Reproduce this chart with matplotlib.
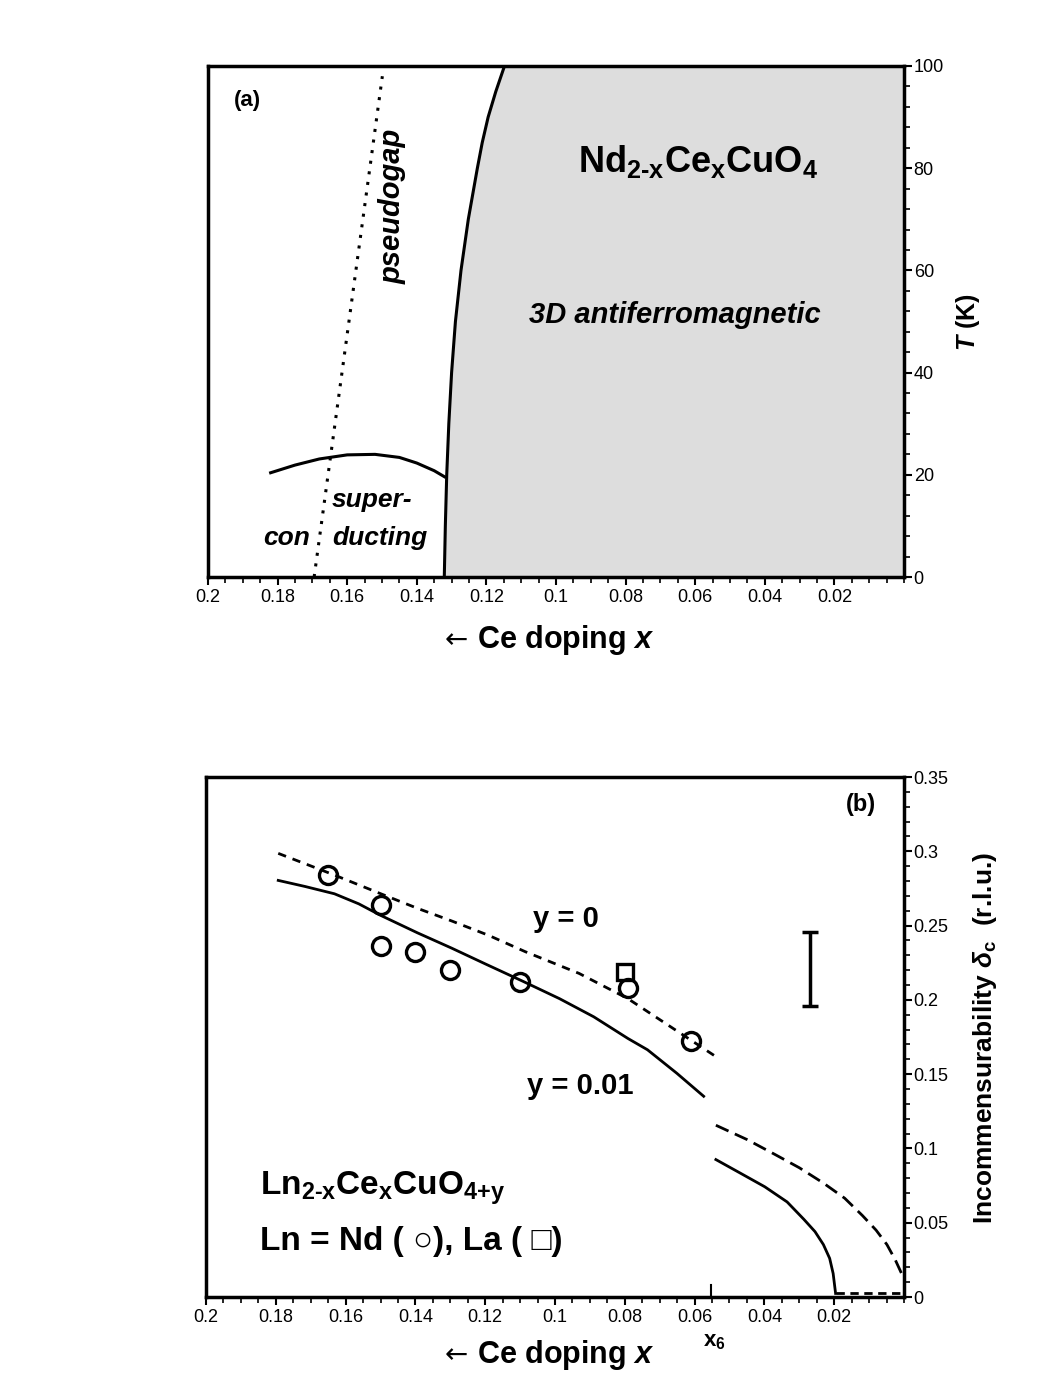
import numpy as np
import matplotlib
matplotlib.use("Agg")
import matplotlib.pyplot as plt
from matplotlib.ticker import MultipleLocator

plt.rcParams['font.family'] = ['Liberation Sans', 'DejaVu Sans']
plt.rcParams['mathtext.fontset'] = 'custom'
plt.rcParams['mathtext.rm'] = 'Liberation Sans:bold'
plt.rcParams['mathtext.bf'] = 'Liberation Sans:bold'
plt.rcParams['mathtext.it'] = 'Liberation Sans:italic:bold'
plt.rcParams['mathtext.sf'] = 'Liberation Sans:bold'

# ---- panel (a) : phase diagram ----
af_T = [0, 10, 20, 30, 40, 50, 60, 70, 80, 85, 90, 95, 100]
af_x = [0.1321, 0.1318, 0.1314, 0.1308, 0.1300, 0.1289, 0.1273, 0.1252, 0.1226,
        0.1212, 0.1195, 0.1173, 0.1148]

dome_x = [0.182, 0.175, 0.168, 0.160, 0.152, 0.145, 0.140, 0.135, 0.132]
dome_T = [20.4, 21.9, 23.1, 23.9, 24.0, 23.4, 22.3, 20.8, 19.6]

pg_x = [0.1695, 0.1499]
pg_T = [0, 98]

# ---- panel (b) : incommensurability ----
y0_x = [0.1793, 0.1632, 0.1499, 0.1394, 0.1296, 0.1190, 0.1085, 0.0931, 0.0791,
        0.0665, 0.0539]
y0_d = [0.2986, 0.2840, 0.2714, 0.2616, 0.2531, 0.2434, 0.2324, 0.2178, 0.2008,
        0.1813, 0.1618]

y1_x = [0.1793, 0.1716, 0.1632, 0.1562, 0.1499, 0.1394, 0.1296, 0.1197, 0.1092,
        0.0987, 0.0889, 0.0791, 0.0735, 0.0651, 0.0574]
y1_d = [0.2804, 0.2763, 0.2714, 0.2646, 0.2568, 0.2451, 0.2348, 0.2239, 0.2125,
        0.2008, 0.1886, 0.1740, 0.1664, 0.1506, 0.1351]

low0_x = [0.0539, 0.0450, 0.0371, 0.0300, 0.0231, 0.0170, 0.0119, 0.0080, 0.0049,
          0.0025, 0.0007]
low0_d = [0.1156, 0.1060, 0.0961, 0.0870, 0.0767, 0.0665, 0.0548, 0.0450, 0.0353,
          0.0250, 0.0158]

low1_x = [0.0539, 0.0470, 0.0399, 0.0335, 0.0287, 0.0255, 0.0231, 0.0213, 0.0203,
          0.0196]
low1_d = [0.0925, 0.0835, 0.0742, 0.0640, 0.0523, 0.0440, 0.0353, 0.0260, 0.0158,
          0.0024]

base_x = [0.0196, 0.0010]
base_d = [0.0024, 0.0024]

nd_x = [0.165, 0.15, 0.15, 0.14, 0.13, 0.11, 0.079, 0.061]
nd_d = [0.284, 0.264, 0.236, 0.232, 0.220, 0.212, 0.208, 0.172]

la_x = [0.08]
la_d = [0.219]

err_x = [0.027]
err_d = [0.221]
err_h = [0.025]

x6 = 0.0552

xticks = [0.2, 0.18, 0.16, 0.14, 0.12, 0.1, 0.08, 0.06, 0.04, 0.02]
xticklabels = ['0.2', '0.18', '0.16', '0.14', '0.12', '0.1', '0.08', '0.06', '0.04', '0.02']
ticks_a = [0, 20, 40, 60, 80, 100]
ticks_b = [0, 0.05, 0.1, 0.15, 0.2, 0.25, 0.3, 0.35]
ticklabels_b = ['0', '0.05', '0.1', '0.15', '0.2', '0.25', '0.3', '0.35']


def style(ax, ymax, yminor):
    ax.set_xlim(0.2, 0)
    ax.set_ylim(0, ymax)
    ax.set_xticks(xticks)
    ax.set_xticklabels(xticklabels)
    ax.xaxis.set_minor_locator(MultipleLocator(0.005))
    ax.yaxis.set_minor_locator(MultipleLocator(yminor))
    ax.yaxis.tick_right()
    ax.tick_params(axis='x', which='both', direction='out', top=False, labelsize=13, pad=3)
    ax.tick_params(axis='x', which='major', length=6, width=1.5)
    ax.tick_params(axis='x', which='minor', length=4, width=1.2)
    ax.tick_params(axis='y', which='both', direction='out', left=False, right=True,
                   labelleft=False, labelright=True, labelsize=13, pad=1)
    ax.tick_params(axis='y', which='major', length=6, width=1.5)
    ax.tick_params(axis='y', which='minor', length=4, width=1.2)
    for s in ax.spines.values():
        s.set_linewidth(2.5)


def xlabel(ypix):
    fig.text(456 / 1040, 1 - ypix / 1386, '\u2190', family='DejaVu Sans', fontsize=20,
             ha='center', va='center')
    fig.text(477 / 1040, 1 - ypix / 1386, 'Ce doping $\\mathit{x}$', fontsize=22,
             fontweight='bold', ha='left', va='center')


fig = plt.figure(figsize=(10.4, 13.86), dpi=100)

ax1 = fig.add_axes([208 / 1040, 1 - 577 / 1386, 696 / 1040, 511 / 1386])
style(ax1, 100, 4)
ax1.set_yticks(ticks_a)

ax1.fill_betweenx(af_T, af_x, 0, color='#dddddd', lw=0)
ax1.plot(af_x, af_T, color='black', lw=2.2)
ax1.plot(dome_x, dome_T, color='black', lw=2.2)
ax1.plot(pg_x, pg_T, color='black', lw=2.2, linestyle=(0, (1, 2.5)))

ax1.text(0.056, 0.933, '(a)', transform=ax1.transAxes, fontsize=16, fontweight='bold',
         ha='center', va='center')
ax1.text(0.704, 0.814,
         r'Nd$_{\mathrm{2}\text{-}\mathrm{x}}$Ce$_{\mathrm{x}}$CuO$_{\mathrm{4}}$',
         transform=ax1.transAxes, fontsize=26, fontweight='bold', ha='center', va='center')
ax1.text(0.671, 0.513, '3D antiferromagnetic', transform=ax1.transAxes, fontsize=21,
         fontweight='bold', style='italic', ha='center', va='center')
ax1.text(0.265, 0.726, 'pseudogap', transform=ax1.transAxes, fontsize=21,
         fontweight='bold', style='italic', ha='center', va='center', rotation=90)
ax1.text(0.178, 0.137, 'super-', transform=ax1.transAxes, fontsize=19,
         fontweight='bold', style='italic', ha='left', va='baseline')
ax1.text(0.1135, 0.0626, 'con', transform=ax1.transAxes, fontsize=19,
         fontweight='bold', style='italic', ha='center', va='baseline')
ax1.text(0.178, 0.0626, 'ducting', transform=ax1.transAxes, fontsize=19,
         fontweight='bold', style='italic', ha='left', va='baseline')

xlabel(640)
fig.text(968 / 1040, 1 - 322 / 1386, '$\\mathit{T}$ (K)', fontsize=18, fontweight='bold',
         ha='center', va='center', rotation=90)

ax2 = fig.add_axes([206 / 1040, 1 - 1297 / 1386, 698 / 1040, 520 / 1386])
style(ax2, 0.35, 0.01)
ax2.set_yticks(ticks_b)
ax2.set_yticklabels(ticklabels_b)

ax2.plot(y0_x, y0_d, color='black', lw=2, linestyle=(0, (3, 2.5)))
ax2.plot(y1_x, y1_d, color='black', lw=2)
ax2.plot(low0_x, low0_d, color='black', lw=2, linestyle=(0, (5, 2.5)))
ax2.plot(low1_x, low1_d, color='black', lw=2)
ax2.plot(base_x, base_d, color='black', lw=2, linestyle=(0, (3, 2)))
ax2.plot([x6, x6], [0, 0.008], color='black', lw=1.5)

ax2.plot(nd_x, nd_d, 'o', ms=13, mfc='none', mec='black', mew=2.4)
ax2.plot(la_x, la_d, 's', ms=12, mfc='none', mec='black', mew=2.4)
ax2.errorbar(err_x, err_d, yerr=err_h, fmt='none', ecolor='black', elinewidth=2.5,
             capsize=6, capthick=2.5)

ax2.text(0.938, 0.948, '(b)', transform=ax2.transAxes, fontsize=17, fontweight='bold',
         ha='center', va='center')
ax2.text(0.516, 0.727, 'y = 0', transform=ax2.transAxes, fontsize=21, fontweight='bold',
         ha='center', va='center')
ax2.text(0.536, 0.406, 'y = 0.01', transform=ax2.transAxes, fontsize=21, fontweight='bold',
         ha='center', va='center')
ax2.text(0.0774, 0.196,
         r'Ln$_{\mathrm{2}\text{-}\mathrm{x}}$Ce$_{\mathrm{x}}$CuO$_{\mathrm{4}\text{+}\mathrm{y}}$',
         transform=ax2.transAxes, fontsize=24, fontweight='bold', ha='left', va='baseline')
ax2.text(0.0774, 0.090, 'Ln = Nd ( \u25cb), La ( \u25a1)', transform=ax2.transAxes,
         fontsize=24, fontweight='bold', ha='left', va='baseline')

xlabel(1355)
fig.text(714 / 1040, 1 - 1341 / 1386, r'x$_{\mathrm{6}}$', fontsize=16, fontweight='bold',
         ha='center', va='center')
fig.text(985 / 1040, 1 - 1038 / 1386, r'Incommensurability $\delta_{\mathrm{c}}$  (r.l.u.)',
         fontsize=19, fontweight='bold', ha='center', va='center', rotation=90)

fig.savefig('out.png', dpi=100)
